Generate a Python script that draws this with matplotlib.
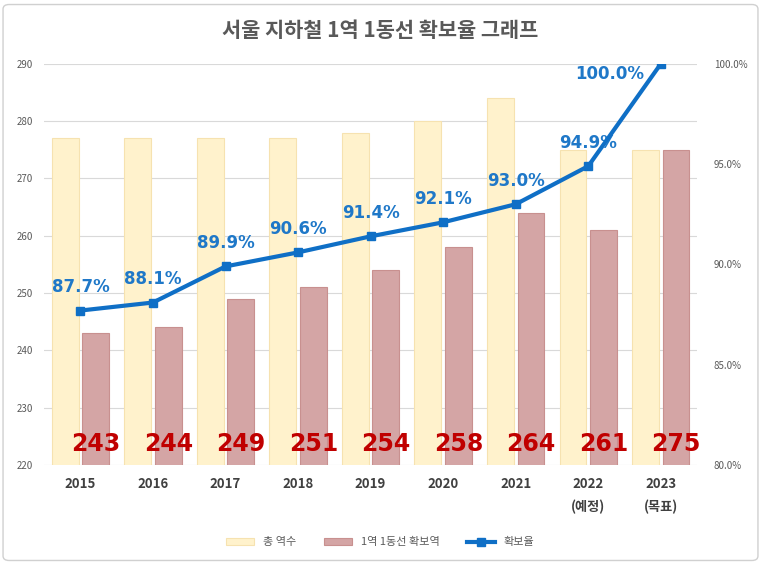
import matplotlib.pyplot as plt
from matplotlib.patches import FancyBboxPatch
import numpy as np

plt.rcParams['font.family'] = ['Noto Sans CJK KR', 'DejaVu Sans']

# Data
years = ["2015", "2016", "2017", "2018", "2019", "2020", "2021", "2022\n(예정)", "2023\n(목표)"]
total_stations = [277, 277, 277, 277, 278, 280, 284, 275, 275]
secured_stations = [243, 244, 249, 251, 254, 258, 264, 261, 275]
secure_rate = [87.7, 88.1, 89.9, 90.6, 91.4, 92.1, 93.0, 94.9, 100.0]

x = np.arange(len(years))
w = 0.37

fig = plt.figure(figsize=(7.61, 5.65), dpi=100)
ax = fig.add_axes([0.058, 0.177, 0.858, 0.71])
ax2 = ax.twinx()

# Bars
ax.bar(x - 0.21, total_stations, w, color="#FFF2CC", edgecolor="#F6E2B0", linewidth=0.8, label="총 역수", zorder=2)
ax.bar(x + 0.21, secured_stations, w, color="#D4A5A5", edgecolor="#C8908F", linewidth=0.8, label="1역 1동선 확보역", zorder=2)

for xi, v in zip(x, secured_stations):
    ax.text(xi + 0.21, 223.6, str(v), ha="center", va="center", fontsize=17,
            fontweight="bold", color="#C00000", family="DejaVu Sans", zorder=5)

ax.set_ylim(220, 290)
ax.set_yticks(range(220, 291, 10))
ax.set_xlim(-0.5, len(years) - 0.5)
ax.grid(axis="y", color="#D9D9D9", linewidth=0.8, zorder=0)
ax.set_axisbelow(True)
ax.set_xticks(x)
ax.set_xticklabels(years, fontsize=9.5, fontweight="bold", color="#404040", linespacing=1.7)
ax.tick_params(axis="x", length=0, pad=9)
ax.tick_params(axis="y", length=0, pad=8, labelsize=7, labelcolor="#595959")

# Line
ax2.plot(x, secure_rate, color="#0F6FC6", linewidth=3, marker="s", markersize=6,
         label="확보율", zorder=4)
ax2.set_ylim(80, 100)
ax2.set_yticks([80, 85, 90, 95, 100])
ax2.set_yticklabels(["80.0%", "85.0%", "90.0%", "95.0%", "100.0%"])
ax2.tick_params(axis="y", length=0, pad=12, labelsize=7, labelcolor="#595959")

for xi, v in zip(x, secure_rate):
    if v == 100.0:
        off = (-37, -7)
    else:
        off = (0, 17)
    ax2.annotate(f"{v:.1f}%", (xi, v), xytext=off, textcoords="offset points",
                 ha="center", va="center", fontsize=12, fontweight="bold",
                 color="#1F78C8", family="DejaVu Sans")

for a in (ax, ax2):
    for s in a.spines.values():
        s.set_visible(False)

fig.suptitle("서울 지하철 1역 1동선 확보율 그래프", y=0.965, fontsize=15,
             fontweight="bold", color="#595959")

h1, l1 = ax.get_legend_handles_labels()
h2, l2 = ax2.get_legend_handles_labels()
fig.legend(h1 + h2, l1 + l2, loc="center", bbox_to_anchor=(0.5, 0.04), ncol=3,
           frameon=False, fontsize=8, labelcolor="#595959", handlelength=2.5,
           columnspacing=2.5)

fig.patches.append(FancyBboxPatch((0.004, 0.008), 0.992, 0.984, boxstyle="round,pad=0,rounding_size=0.008",
                                  transform=fig.transFigure, facecolor="none",
                                  edgecolor="#D0D0D0", linewidth=1))

fig.savefig("out.png", dpi=100)
